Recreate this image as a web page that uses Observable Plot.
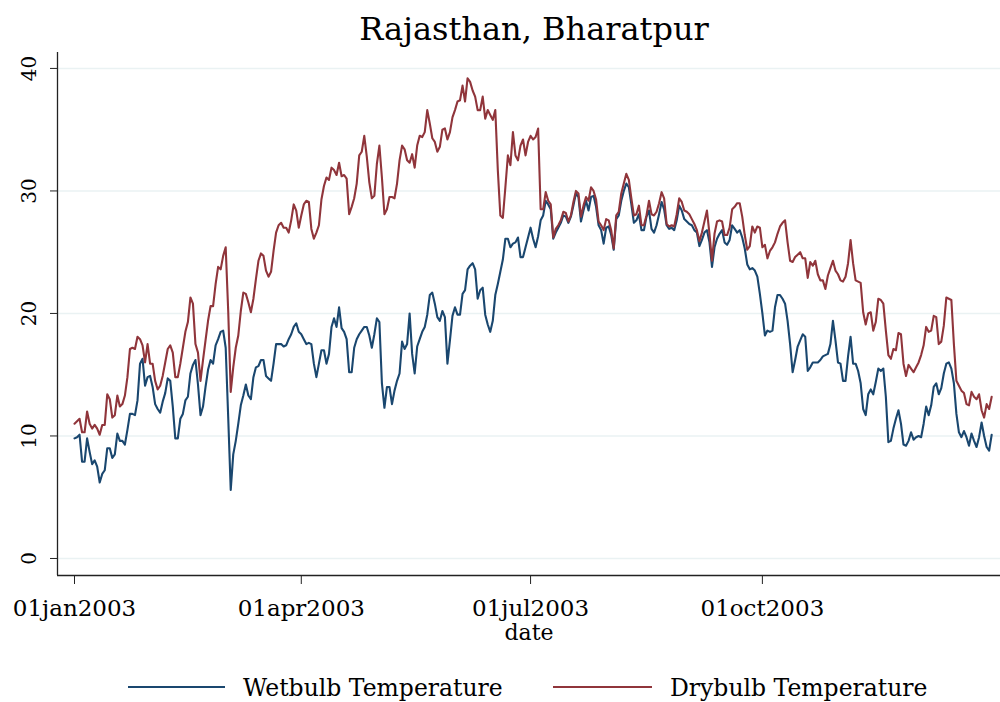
<!DOCTYPE html>
<html><head><meta charset="utf-8">
<script src="https://cdn.jsdelivr.net/npm/d3@7"></script>
<script src="https://cdn.jsdelivr.net/npm/@observablehq/plot@0.6"></script>
<style>
body{margin:0;background:#fff;font-family:"DejaVu Serif",serif;color:#000;}
#wrap{width:1000px;height:702px;overflow:hidden;position:relative;background:#fff;}
#title{height:50px;line-height:50px;text-align:center;font-size:32px;}
#title span{position:relative;top:4px;left:34px;}
#chart{height:600px;}
#legend{position:relative;height:52px;font-size:23.5px;}
#legend .sw{position:absolute;top:36px;height:2px;}
#legend .tx{position:absolute;top:27px;line-height:23px;white-space:nowrap;}
</style></head>
<body><div id="wrap">
<div id="title"><span></span></div>
<div id="chart"></div>
<div id="legend"></div>
</div>
<script>
const title = "Rajasthan, Bharatpur";
const seriesNames = ["Wetbulb Temperature", "Drybulb Temperature"];
const seriesColors = ["#1a476f", "#90353b"];
const xLabel = "date";
const yTicks = [0, 10, 20, 30, 40];
const xTickDates = [Date.UTC(2003,0,1), Date.UTC(2003,3,1), Date.UTC(2003,6,1), Date.UTC(2003,9,1)];
const xTickLabels = ["01jan2003", "01apr2003", "01jul2003", "01oct2003"];
const firstDay = Date.UTC(2003,0,1);

const wetbulb = [
9.8,9.9,10.1,7.9,7.9,9.8,8.7,7.7,8.0,7.5,
6.2,6.9,7.2,9.0,9.0,8.2,8.5,10.2,9.6,9.6,
9.3,10.5,11.8,11.8,11.7,12.9,15.9,16.3,14.1,14.8,
14.9,14.0,12.6,12.2,11.9,12.8,13.5,14.7,14.5,12.4,
9.8,9.8,11.4,11.8,12.9,13.2,15.1,15.8,16.2,14.2,
11.7,12.4,14.0,15.4,16.2,15.9,17.4,17.9,18.5,18.6,
17.2,11.5,5.6,8.5,9.6,11.0,12.5,13.3,14.2,13.3,
13.0,14.8,15.6,15.7,16.2,16.2,14.9,14.7,14.5,15.9,
17.5,17.5,17.5,17.3,17.4,17.9,18.3,18.9,19.2,18.5,
18.3,17.9,17.5,17.6,17.5,15.9,14.8,15.9,17.0,17.0,
15.9,16.7,18.9,19.6,18.9,20.5,18.8,18.5,17.9,15.2,
15.2,17.2,17.9,18.3,18.6,18.9,18.9,18.2,17.2,18.3,
19.6,19.3,14.3,12.3,14.0,14.0,12.6,13.7,14.5,15.1,
17.7,17.1,17.5,20.0,16.7,15.1,17.3,17.9,18.5,18.9,
19.9,21.5,21.7,20.8,19.7,19.4,20.2,19.7,15.9,17.8,
19.8,20.5,19.9,19.9,21.6,21.9,23.6,23.9,24.1,23.6,
21.2,21.9,22.1,19.9,19.1,18.5,19.4,21.5,22.4,23.4,
24.4,26.1,26.1,25.4,25.7,25.8,26.2,24.6,24.6,25.4,
26.2,27.0,26.1,25.4,26.3,27.6,28.0,29.2,28.9,28.5,
26.1,26.6,27.0,27.4,28.0,27.9,27.4,27.9,28.8,29.8,
29.5,27.5,28.4,29.2,28.4,29.5,29.6,28.7,27.2,26.8,
25.7,27.0,27.1,26.4,25.2,27.7,28.0,29.2,30.0,30.6,
30.3,28.9,27.4,27.6,28.1,26.8,26.8,27.9,28.4,26.9,
26.6,27.2,28.1,29.1,28.5,27.2,26.9,27.0,26.8,27.6,
28.8,28.4,27.7,27.5,27.3,27.2,26.8,26.6,25.5,26.0,
26.6,26.8,25.8,23.8,25.4,26.1,26.5,26.8,25.8,25.6,
26.0,27.2,26.9,26.6,26.8,26.2,25.3,24.0,23.6,23.7,
23.5,23.0,21.6,20.0,18.2,18.6,18.5,18.6,20.5,21.5,
21.5,21.2,20.8,19.4,17.5,15.2,16.2,17.3,17.8,18.3,
18.1,15.3,15.6,16.0,16.0,16.0,16.2,16.5,16.6,16.7,
17.5,19.4,17.8,16.0,15.9,14.5,14.5,16.5,18.1,15.9,
15.9,15.3,14.3,12.2,11.7,13.4,13.8,13.4,14.4,15.5,
15.3,15.5,13.2,9.5,9.6,10.6,11.4,12.1,11.0,9.3,
9.2,9.6,10.3,9.7,9.9,10.0,9.9,11.0,12.4,11.7,
12.5,14.0,14.3,13.4,13.9,15.1,15.9,16.0,15.5,14.3,
11.8,10.3,9.9,10.4,9.9,9.2,10.2,9.6,9.1,9.9,
11.1,10.0,9.1,8.8,10.1
];

const drybulb = [
11.0,11.2,11.4,10.3,10.3,12.0,11.0,10.6,10.9,10.6,
10.1,10.9,10.9,13.4,13.0,11.5,11.7,13.3,12.4,12.6,
13.3,14.8,17.1,17.2,17.1,18.1,17.9,17.4,16.0,17.5,
15.9,15.9,14.5,13.8,14.1,14.9,16.0,17.1,17.4,16.8,
14.8,14.8,15.9,17.2,18.5,19.3,21.3,20.8,17.5,16.8,
14.5,16.2,17.8,19.4,20.6,20.6,22.4,23.8,23.6,24.7,
25.4,20.2,13.6,15.6,17.2,18.2,20.2,21.7,21.6,20.9,
20.1,21.2,22.8,24.3,24.9,24.7,23.5,23.0,23.4,25.1,
26.6,27.2,27.4,27.0,27.0,26.6,27.6,28.9,28.4,27.0,
28.0,28.9,29.2,29.1,26.9,26.1,26.6,27.2,29.3,30.4,
31.1,30.9,31.9,31.7,31.3,32.3,31.2,31.3,31.0,28.1,
28.7,29.4,30.6,32.9,33.2,34.5,32.8,30.7,29.4,29.6,
32.2,33.7,31.1,28.1,28.5,29.5,29.5,29.4,30.6,32.5,
33.7,33.4,32.5,32.3,33.0,31.9,33.7,34.5,34.4,34.8,
36.6,35.5,34.3,34.0,33.2,33.6,35.0,35.1,34.2,34.8,
36.0,36.6,37.3,37.4,38.6,37.3,39.2,38.9,38.2,37.7,
36.6,36.6,37.7,35.9,36.6,36.2,35.8,36.6,31.7,28.0,
27.8,30.3,32.9,32.1,34.8,32.9,32.5,33.7,34.2,32.9,
34.0,34.5,34.2,34.4,35.1,28.5,28.5,29.9,29.2,28.9,
26.2,26.9,27.2,27.6,28.3,28.2,27.5,28.0,29.1,30.0,
29.8,27.9,28.8,29.5,29.2,30.3,30.0,29.3,27.5,27.2,
26.8,27.7,27.6,26.8,25.3,28.0,28.3,29.8,30.6,31.4,
30.9,29.4,28.0,28.1,28.8,27.2,27.2,28.0,29.2,28.1,
28.0,28.3,29.0,29.9,29.4,27.3,27.1,27.2,27.1,28.1,
29.4,29.1,28.4,28.3,28.1,27.7,27.3,26.8,25.9,26.6,
27.5,28.4,26.5,24.3,26.5,27.5,27.6,27.5,26.4,26.4,
27.0,28.5,28.7,29.0,29.0,27.9,26.4,25.2,25.5,27.1,
26.6,27.1,27.0,25.4,25.6,24.5,25.1,25.4,25.8,26.5,
27.1,27.4,27.6,25.8,24.3,24.2,24.6,24.8,25.0,24.5,
24.5,22.9,24.2,23.9,24.3,23.2,22.7,22.7,22.0,23.1,
23.7,24.3,23.5,23.2,22.7,22.6,23.0,24.1,26.0,24.1,
22.7,22.6,22.5,20.1,19.1,20.0,20.1,18.6,19.3,21.2,
21.1,20.8,18.6,16.6,16.3,17.1,17.0,18.4,18.3,15.9,
14.9,15.8,15.5,15.2,15.6,16.0,16.6,17.4,18.9,18.5,
18.6,19.8,19.7,17.5,17.7,19.0,21.3,21.2,21.1,17.5,
14.5,14.1,13.7,13.5,12.6,12.5,13.6,13.2,13.0,13.4,
12.1,11.5,12.6,12.2,13.2
];

const day = 864e5;
const xDomain = [new Date(firstDay - 6.75*day), new Date(firstDay + 367.5*day)];
const yDomain = [-1.39, 41.3];

const rows = [];
wetbulb.forEach((v,i)=>rows.push({date:new Date(firstDay + i*day), value:v, series:seriesNames[0]}));
drybulb.forEach((v,i)=>rows.push({date:new Date(firstDay + i*day), value:v, series:seriesNames[1]}));

const labelOf = new Map(xTickDates.map((t,i)=>[t, xTickLabels[i]]));

const chart = Plot.plot({
  width: 1000, height: 600,
  marginLeft: 57, marginRight: 0, marginTop: 2, marginBottom: 75,
  style: {fontFamily: "DejaVu Serif", color: "#000", background: "#fff", overflow: "visible"},
  x: {type: "utc", domain: xDomain},
  y: {domain: yDomain},
  color: {domain: seriesNames, range: seriesColors},
  marks: [
    Plot.gridY(yTicks, {stroke: "#eaf2f3", strokeOpacity: 1, strokeWidth: 1.6}),
    Plot.lineY(rows, {x: "date", y: "value", z: "series", stroke: "series", strokeWidth: 2.1}),
    Plot.ruleX([xDomain[0]], {stroke: "#222", strokeWidth: 1.3}),
    Plot.ruleY([yDomain[0]], {stroke: "#222", strokeWidth: 1.3}),
    Plot.axisY({ticks: yTicks, tickSize: 7, tickFormat: () => "", stroke: "#222", label: null}),
    Plot.text(yTicks, {y: d => d, text: d => String(d), frameAnchor: "left", textAnchor: "middle", lineAnchor: "middle", dx: -28, rotate: -90, fontSize: 20, fill: "#000"}),
    Plot.axisX({ticks: xTickDates.map(t => new Date(t)), tickSize: 9, tickPadding: 15, fontSize: 23,
      tickFormat: d => labelOf.get(+d), stroke: "#222", label: null}),
    Plot.text([xLabel], {text: d => d, frameAnchor: "bottom", lineAnchor: "middle", dy: 57, fontSize: 22, fill: "#000"})
  ]
});
document.getElementById("chart").appendChild(chart);
document.querySelector("#title span").textContent = title;

const legend = document.getElementById("legend");
const legendPos = [[128, 97, 243], [553, 99, 670]];
seriesNames.forEach((name, i) => {
  const sw = document.createElement("div");
  sw.className = "sw";
  sw.style.left = legendPos[i][0] + "px";
  sw.style.width = legendPos[i][1] + "px";
  sw.style.background = seriesColors[i];
  legend.appendChild(sw);
  const tx = document.createElement("div");
  tx.className = "tx";
  tx.style.left = legendPos[i][2] + "px";
  tx.textContent = name;
  legend.appendChild(tx);
});
</script>
</body></html>
